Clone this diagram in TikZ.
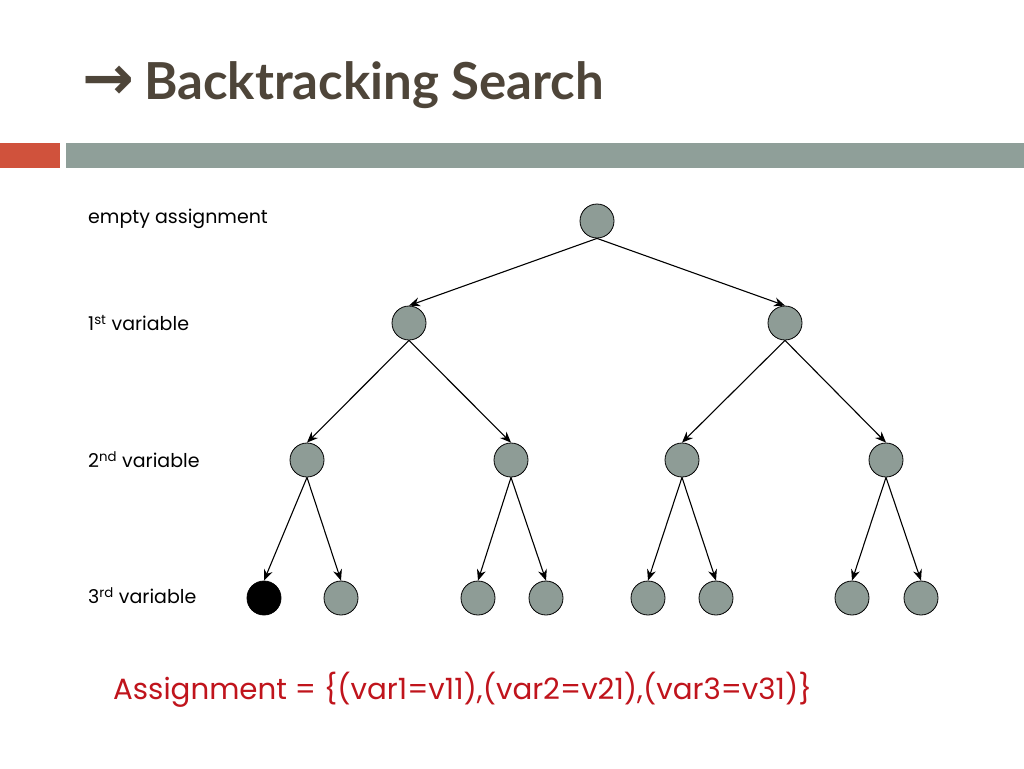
\documentclass[tikz,border=0pt]{standalone}
\usepackage{fontspec}
\setmainfont{Poppins}
\newfontfamily\titlefont{Lato}
\newfontfamily\arrowfont{DejaVu Sans}
\usetikzlibrary{arrows.meta}
\definecolor{nodegray}{HTML}{8E9C96}
\definecolor{bargray}{HTML}{8F9F99}
\definecolor{barred}{HTML}{D0523C}
\definecolor{titlebrown}{HTML}{4E4539}
\definecolor{asgred}{HTML}{C0141C}
\tikzset{
  tnode/.style={circle,draw=black,line width=0.8pt,fill=nodegray,minimum size=34pt,inner sep=0pt},
  blacknode/.style={tnode,fill=black},
  edge/.style={-{Stealth[length=11pt,width=9pt]},line width=1.1pt},
  lvl/.style={anchor=west,font=\fontsize{19}{22}\selectfont,inner sep=0pt},
}
\begin{document}
\begin{tikzpicture}[x=1pt,y=-1pt]
\useasboundingbox (0,0) rectangle (1024,768);
\fill[white] (0,0) rectangle (1024,768);
% title
\node[anchor=base west,inner sep=0pt,text=titlebrown] (title) at (82,99) {{\fontsize{62}{60}\selectfont\arrowfont\bfseries →}\hspace{10pt}{\fontsize{51}{60}\selectfont\titlefont\bfseries Backtracking Search}};
% bars
\fill[barred] (0,143) rectangle (60,168);
\fill[bargray] (66,143) rectangle (1024,168);
% level labels
\node[lvl] (l0) at (88,219) {empty assignment};
\node[lvl] (l1) at (88,323) {1\textsuperscript{st} variable};
\node[lvl] (l2) at (88,460) {2\textsuperscript{nd} variable};
\node[lvl] (l3) at (88,596) {3\textsuperscript{rd} variable};
% tree nodes
\node[tnode] (r) at (597,221) {};
\node[tnode] (a) at (409,323) {};
\node[tnode] (b) at (785,323) {};
\node[tnode] (aa) at (307,460) {};
\node[tnode] (ab) at (511,460) {};
\node[tnode] (ba) at (682,460) {};
\node[tnode] (bb) at (886,460) {};
\node[blacknode] (aaa) at (264,598) {};
\node[tnode] (aab) at (341,598) {};
\node[tnode] (aba) at (478,598) {};
\node[tnode] (abb) at (546,598) {};
\node[tnode] (baa) at (648,598) {};
\node[tnode] (bab) at (716,598) {};
\node[tnode] (bba) at (852,598) {};
\node[tnode] (bbb) at (921,598) {};
% edges
\draw[edge] (r.south) -- (a.north);
\draw[edge] (r.south) -- (b.north);
\draw[edge] (a.south) -- (aa.north);
\draw[edge] (a.south) -- (ab.north);
\draw[edge] (b.south) -- (ba.north);
\draw[edge] (b.south) -- (bb.north);
\draw[edge] (aa.south) -- (aaa.north);
\draw[edge] (aa.south) -- (aab.north);
\draw[edge] (ab.south) -- (aba.north);
\draw[edge] (ab.south) -- (abb.north);
\draw[edge] (ba.south) -- (baa.north);
\draw[edge] (ba.south) -- (bab.north);
\draw[edge] (bb.south) -- (bba.north);
\draw[edge] (bb.south) -- (bbb.north);
% assignment
\node[anchor=west,inner sep=0pt,text=asgred,font=\fontsize{29.3}{34}\selectfont] (asg) at (113,690) {Assignment = \{(var1=v11),(var2=v21),(var3=v31)\}};
\end{tikzpicture}
\end{document}
